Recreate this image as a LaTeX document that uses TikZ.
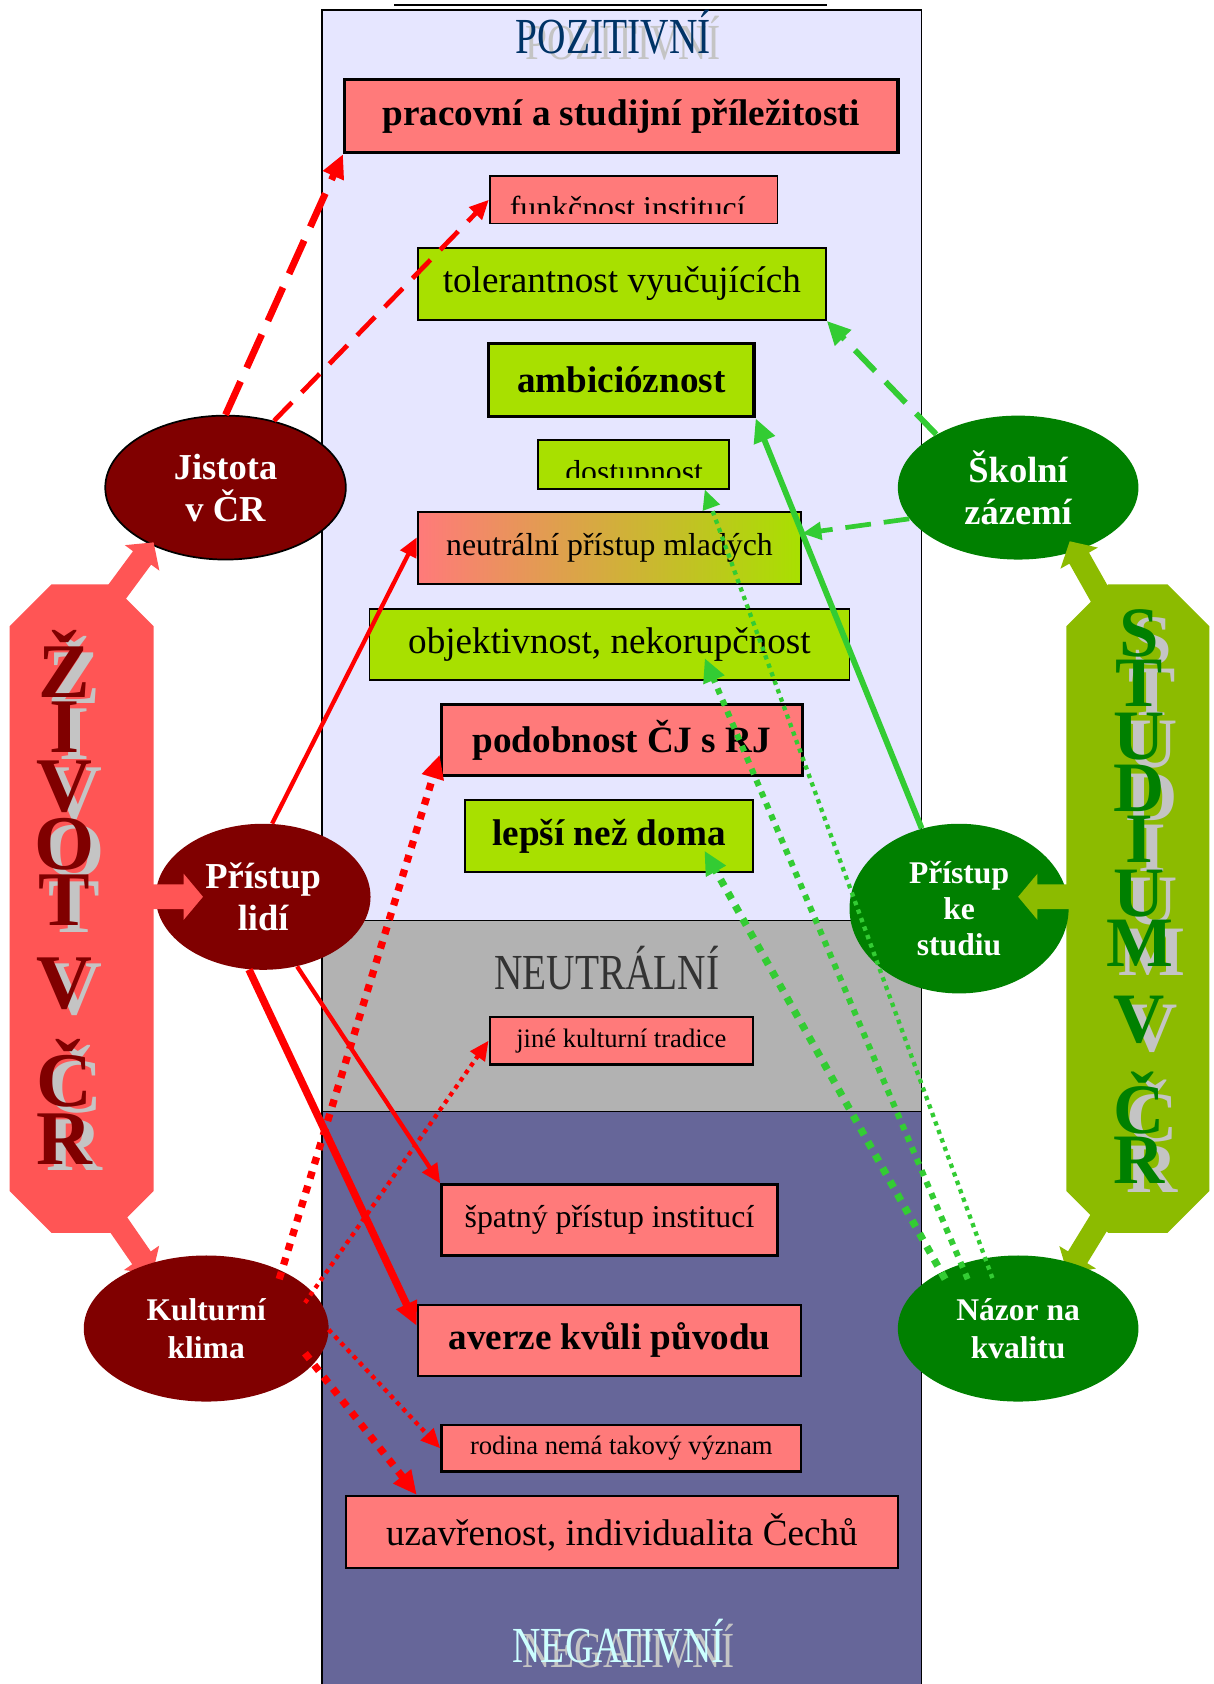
\documentclass[tikz,border=0pt]{standalone}
\usepackage{fontspec}
\usepackage{graphicx}
\setmainfont{Liberation Serif}
\usetikzlibrary{shapes.geometric,arrows.meta,calc}

\definecolor{pinkbox}{HTML}{FF7A7A}
\definecolor{limebox}{HTML}{A8E000}
\definecolor{lav}{HTML}{E6E6FF}
\definecolor{neutr}{HTML}{B2B2B2}
\definecolor{negat}{HTML}{666699}
\definecolor{maroonc}{HTML}{800000}
\definecolor{dgreen}{HTML}{008000}
\definecolor{coral}{HTML}{FF5555}
\definecolor{olivec}{HTML}{8CBB00}
\definecolor{rline}{HTML}{FF0000}
\definecolor{gline}{HTML}{33CC33}
\definecolor{titleblue}{HTML}{003366}
\definecolor{negtext}{HTML}{CCFFFF}
\definecolor{neutext}{HTML}{333333}
\definecolor{shade}{HTML}{C4C4C4}

\newcommand\szL{\fontsize{17.3}{20}\selectfont}
\newcommand\szM{\fontsize{14.8}{17}\selectfont}
\newcommand\szS{\fontsize{12.4}{14}\selectfont}

\newcommand\blockarr[6]{%
  \coordinate (bah) at ($(#2)!#5!(#1)$);
  \fill[#6] ($(#1)!#3!90:(#2)$) -- ($(bah)!#3!90:(#2)$) -- ($(bah)!#4!90:(#2)$) -- (#2)
    -- ($(bah)!#4!-90:(#2)$) -- ($(bah)!#3!-90:(#2)$) -- ($(#1)!#3!-90:(#2)$) -- cycle;}

\newcommand\lletter[4]{%
  \node[lsh] (#1s) at ({#2+9},{#3+6}) {#4};
  \node[lmn] (#1) at (#2,#3) {#4};}
\newcommand\rletter[4]{%
  \node[rsh] (#1s) at ({#2+12},{#3+8}) {#4};
  \node[rmn] (#1) at (#2,#3) {#4};}

\tikzset{
  box/.style={draw=black, rectangle, inner sep=0pt, line width=0.8pt},
  pbox/.style={box, fill=pinkbox},
  lbox/.style={box, fill=limebox},
  thickb/.style={line width=1.6pt},
  midb/.style={line width=1.1pt},
  ell/.style={ellipse, inner sep=0pt, text=white, align=center},
  ttl/.style={anchor=base, inner sep=0pt, font=\fontsize{23.5}{24}\selectfont},
  lsh/.style={anchor=base, inner sep=0pt, text=shade, font=\fontsize{36}{36}\selectfont\bfseries},
  lmn/.style={anchor=base, inner sep=0pt, text=maroonc, font=\fontsize{36}{36}\selectfont\bfseries},
  rsh/.style={anchor=base, inner sep=0pt, text=shade, font=\fontsize{33}{33}\selectfont\bfseries},
  rmn/.style={anchor=base, inner sep=0pt, text=dgreen, font=\fontsize{33}{33}\selectfont\bfseries},
  bigtip/.style={-{Triangle[length=11pt,width=10pt]}},
  smalltip/.style={-{Triangle[length=9pt,width=8pt]}},
  rdashA/.style={draw=rline, line width=3.2pt, dash pattern=on 17pt off 7pt, bigtip},
  rdashB/.style={draw=rline, line width=2.2pt, dash pattern=on 12pt off 6.5pt, smalltip},
  rsolid/.style={draw=rline, line width=2pt, smalltip},
  rthick/.style={draw=rline, line width=3.5pt, bigtip},
  rdotA/.style={draw=rline, line width=3.4pt, dash pattern=on 3.4pt off 3.6pt, bigtip},
  rdotB/.style={draw=rline, line width=2pt, dash pattern=on 2pt off 2.2pt, smalltip},
  gdashA/.style={draw=gline, line width=2.7pt, dash pattern=on 13.5pt off 7pt, bigtip},
  gdashB/.style={draw=gline, line width=2.2pt, dash pattern=on 12pt off 6pt, smalltip},
  gsolid/.style={draw=gline, line width=2.7pt, bigtip},
  gdotA/.style={draw=gline, line width=3.4pt, dash pattern=on 3.4pt off 3.6pt, bigtip},
  gdotM/.style={draw=gline, line width=2.8pt, dash pattern=on 2.8pt off 3pt, bigtip},
  gdotB/.style={draw=gline, line width=2pt, dash pattern=on 2pt off 2.2pt, smalltip},
}

\begin{document}
\begin{tikzpicture}[x=0.5pt,y=-0.5pt]
\useasboundingbox (0,0) rectangle (1130,1568);

% ---------- central panel ----------
\fill[lav] (300,9) rectangle (858,857);
\fill[neutr] (300,857) rectangle (858,1035);
\fill[negat] (300,1035) rectangle (858,1580);
\draw[line width=0.8pt] (300,1580) -- (300,9) -- (858,9) -- (858,1580);
\draw[line width=0.8pt] (300,857) -- (858,857) (300,1035) -- (858,1035);
\draw[line width=1pt] (367,5) -- (770,5);

% section titles
\node[ttl, text=shade] (pozs) at (580,55) {\scalebox{0.78}[1]{POZITIVNÍ}};
\node[ttl, text=titleblue] (poz) at (571,50) {\scalebox{0.78}[1]{POZITIVNÍ}};
\node[ttl, text=neutext] (neut) at (565,921) {\scalebox{0.78}[1]{NEUTRÁLNÍ}};
\node[ttl, text=shade] (negs) at (585,1553) {\scalebox{0.78}[1]{NEGATIVNÍ}};
\node[ttl, text=negtext] (neg) at (576,1548) {\scalebox{0.78}[1]{NEGATIVNÍ}};

% ---------- boxes ----------
\node[pbox, thickb, minimum width=257.5pt, minimum height=34pt, font=\szL\bfseries] (pra) at (578.5,108) {pracovní a studijní příležitosti};
\node[pbox, minimum width=134pt, minimum height=22pt] (fun) at (590,186) {};
\begin{scope}
  \clip (456,164) rectangle (724,199);
  \node[anchor=base, inner sep=0pt, font=\szM] (funt) at (584.5,203) {funkčnost institucí};
\end{scope}
\node[lbox, minimum width=190pt, minimum height=33.5pt, font=\szL] (tol) at (579,264.5) {tolerantnost vyučujících};
\node[lbox, thickb, minimum width=123.5pt, minimum height=34pt, font=\szL\bfseries] (amb) at (578.5,354) {ambicióznost};
\node[lbox, minimum width=89pt, minimum height=22.5pt] (dos) at (590,432.5) {};
\begin{scope}
  \clip (501,410) rectangle (679,445);
  \node[anchor=base, inner sep=0pt, font=\szM] (dost) at (590.5,449) {dostupnost};
\end{scope}
\node[box, left color=pinkbox, right color=limebox, minimum width=178.5pt, minimum height=33.5pt, font=\szM] (neu) at (567.5,510.5) {neutrální přístup mladých};
\node[lbox, minimum width=223.5pt, minimum height=33pt, font=\szL] (obj) at (567.5,600) {objektivnost, nekorupčnost};
\node[pbox, thickb, minimum width=168pt, minimum height=33pt, font=\szL\bfseries] (pod) at (579,689) {podobnost ČJ s RJ\hspace{8pt}};
\node[lbox, midb, minimum width=134pt, minimum height=33.5pt, font=\szL\bfseries] (lep) at (567,778.5) {lepší než doma};
\node[pbox, midb, minimum width=122.5pt, minimum height=22pt, font=\szS] (jin) at (578.5,969) {jiné kulturní tradice\hspace{5pt}};
\node[pbox, midb, minimum width=156.5pt, minimum height=33pt, font=\szM] (spa) at (567.5,1136) {špatný přístup institucí};
\node[pbox, midb, minimum width=178.5pt, minimum height=33pt, font=\szL\bfseries] (ave) at (567.5,1248) {averze kvůli původu};
\node[pbox, midb, minimum width=167.5pt, minimum height=21.5pt, font=\szS] (rod) at (578.5,1348.5) {rodina nemá takový význam};
\node[pbox, midb, minimum width=257pt, minimum height=33.5pt, font=\szL] (uza) at (579,1426.5) {uzavřenost, individualita Čechů};

% ---------- side bodies ----------
\fill[coral] (9,583) -- (48,544) -- (104,544) -- (143,583) -- (143,1109) -- (104,1148) -- (48,1148) -- (9,1109) -- cycle;
\fill[olivec] (993,583) -- (1032,544) -- (1087,544) -- (1126,583) -- (1126,1109) -- (1087,1148) -- (1032,1148) -- (993,1109) -- cycle;

\coordinate (zd1) at (95,1118); \coordinate (zd2) at (142,1186);
\blockarr{zd1}{zd2}{5.25pt}{10pt}{9pt}{coral}
\coordinate (sd1) at (1043,1106); \coordinate (sd2) at (994,1186);
\blockarr{sd1}{sd2}{5.25pt}{10pt}{9pt}{olivec}

% ---------- ellipses ----------
\node[ell, fill=maroonc, draw=black, line width=0.8pt, minimum width=112pt, minimum height=67pt, font=\fontsize{17}{19.5}\selectfont\bfseries] (jis) at (210,454) {Jistota\\v ČR};
\node[ell, fill=maroonc, minimum width=100pt, minimum height=68pt, font=\fontsize{17}{19.5}\selectfont\bfseries] (pri) at (245,835) {Přístup\\lidí};
\node[ell, fill=maroonc, minimum width=114pt, minimum height=68pt, font=\fontsize{14.7}{17.5}\selectfont\bfseries] (kul) at (192,1237) {Kulturní\\klima};
\node[ell, fill=dgreen, minimum width=112pt, minimum height=67pt, font=\fontsize{17}{19.5}\selectfont\bfseries] (sko) at (948,454) {Školní\\zázemí};
\node[ell, fill=dgreen, minimum width=102pt, minimum height=79pt, font=\fontsize{14.7}{16.8}\selectfont\bfseries] (pks) at (893,846) {Přístup\\ke\\studiu};
\node[ell, fill=dgreen, minimum width=112pt, minimum height=68pt, font=\fontsize{14.7}{17.5}\selectfont\bfseries] (naz) at (948,1237) {Názor na\\kvalitu};

% upper and middle block arrows
\coordinate (zu1) at (95,570); \coordinate (zu2) at (143,505);
\blockarr{zu1}{zu2}{5.25pt}{10pt}{9pt}{coral}
\coordinate (zm1) at (130,835); \coordinate (zm2) at (189,835);
\blockarr{zm1}{zm2}{5.75pt}{10.75pt}{9pt}{coral}
\coordinate (su1) at (1040,582); \coordinate (su2) at (996,504);
\blockarr{su1}{su2}{5.25pt}{10pt}{9pt}{olivec}
\coordinate (sm1) at (1000,835); \coordinate (sm2) at (948,835);
\blockarr{sm1}{sm2}{5.75pt}{10.75pt}{9pt}{olivec}

% ---------- vertical letters ----------
\lletter{zl1}{60}{649}{Ž}
\lletter{zl2}{60}{701}{I}
\lletter{zl3}{60}{756}{V}
\lletter{zl4}{60}{810}{O}
\lletter{zl5}{60}{862}{T}
\lletter{zl6}{60}{939}{V}
\lletter{zl7}{60}{1030}{Č}
\lletter{zl8}{60}{1084}{R}

\rletter{sl1}{1061}{611}{S}
\rletter{sl2}{1061}{658}{T}
\rletter{sl3}{1061}{707}{U}
\rletter{sl4}{1061}{756}{D}
\rletter{sl5}{1061}{803}{I}
\rletter{sl6}{1061}{853}{U}
\rletter{sl7}{1061}{900}{M}
\rletter{sl8}{1061}{971}{V}
\rletter{sl9}{1061}{1055}{Č}
\rletter{sl10}{1061}{1102}{R}

% ---------- connectors ----------
\draw[rdashA] (jis.north) -- (pra.south west);
\draw[rdashB] (jis.54) -- (fun.west);
\draw[rsolid] (pri.83) -- ($(neu.north west)!0.35!(neu.south west)$);
\draw[rsolid] (pri.-64) -- (spa.north west);
\draw[rthick] (pri.-101) -- ($(ave.north west)!0.3!(ave.south west)$);
\draw[rdotA] ($(kul.center)+(68,-46)$) -- ($(pod.north west)!0.7!(pod.south west)$);
\draw[rdotB] ($(kul.center)+(92,-24)$) -- (jin.west);
\draw[rdotB] ($(kul.center)+(114,1)$) -- (rod.west);
\draw[rdotA] ($(kul.center)+(92,23)$) -- ($(uza.north west)!0.13!(uza.north east)$);

\draw[gdashA] (sko.147) -- (tol.south east);
\draw[gdashB] (sko.196) -- ($(neu.north east)!0.3!(neu.south east)$);
\draw[gsolid] (pks.115) -- (amb.south east);
\draw[gdotA] ($(naz.center)+(-68,-46)$) -- ($(lep.south west)+(224,-21)$);
\draw[gdotM] ($(naz.center)+(-47,-46)$) -- ($(obj.south west)+(313,-21)$);
\draw[gdotB] ($(naz.center)+(-24,-47)$) -- ($(dos.south west)+(156,0)$);
\end{tikzpicture}
\end{document}
